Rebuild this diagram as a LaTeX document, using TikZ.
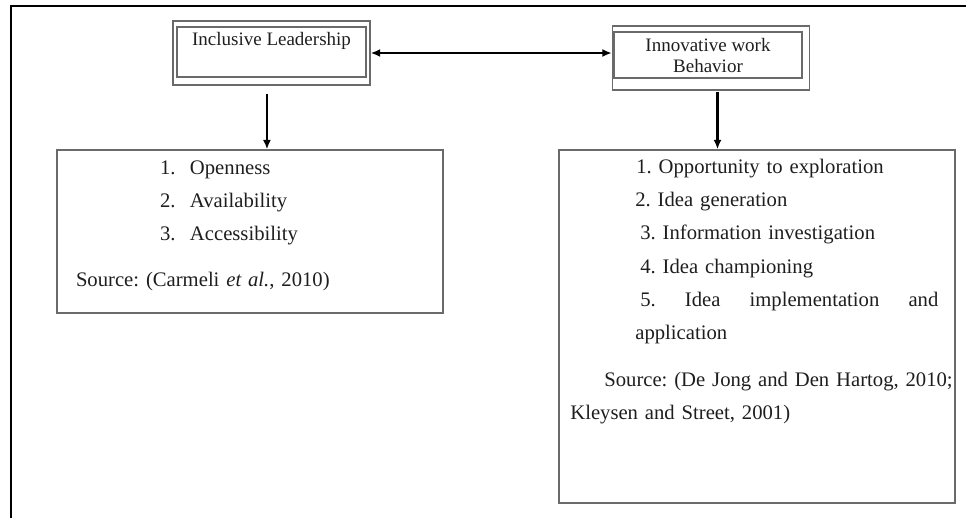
\documentclass[tikz,border=0pt]{standalone}
\usepackage{fontspec}
\setmainfont{Liberation Serif}
\usetikzlibrary{arrows.meta,positioning,calc}
\definecolor{ink}{HTML}{1E1E1E}
\definecolor{boxline}{HTML}{6A6A6A}
\tikzset{
  >={Latex[length=7pt,width=6pt]},
  every node/.style={text=ink},
  outerbox/.style={draw=boxline,line width=1.1pt,minimum width=147.75pt,minimum height=48pt,inner sep=0pt},
  innerbox/.style={draw=boxline,line width=1.1pt,inner sep=0pt,align=center,font=\fontsize{14.25pt}{15.75pt}\selectfont\frenchspacing},
  listbox/.style={draw=boxline,line width=1.1pt,align=left,inner ysep=0pt,font=\fontsize{15.5pt}{25pt}\selectfont\frenchspacing},
  arrow/.style={->,line width=1.6pt,draw=black},
  biarrow/.style={<->,line width=1.6pt,draw=black},
  pageframe/.style={line width=1.5pt,draw=black},
}

\begin{document}
\begin{tikzpicture}[x=0.75pt,y=-0.75pt]
\useasboundingbox (0,0) rectangle (966,518);

\draw[pageframe] (966,6) -- (11,6) -- (11,518);

% top boxes
\node[outerbox] (lead) at (271.5,53) {};
\node[innerbox,minimum width=141.75pt,text height=13.5pt,text depth=24pt] (leadIn) at (271.5,52) {Inclusive Leadership};
\node[outerbox,right=180.75pt of lead,yshift=-3.75pt] (iwb) {};
\node[innerbox,minimum width=141pt,minimum height=34.5pt] (iwbIn) at (708,55) {Innovative work\\Behavior};

% dimension boxes
\node[listbox,minimum width=289.5pt,minimum height=122.25pt,text width=261pt,inner xsep=14.25pt] (leadDims) at (250,231.5)
{\hspace*{63pt}\makebox[22.5pt][l]{1.}Openness\\
 \hspace*{63pt}\makebox[22.5pt][l]{2.}Availability\\
 \hspace*{63pt}\makebox[22.5pt][l]{3.}Accessibility\\[9pt]
 Source: (Carmeli \textit{et al.}, 2010)\rule[-12.5pt]{0pt}{1pt}};
\node[listbox,minimum width=297pt,minimum height=264.75pt,text width=280pt,inner xsep=8.5pt] (iwbDims) at (757,326.5)
{\hspace*{49.5pt}1. Opportunity to exploration\\
 \hspace*{48.75pt}2. Idea generation\\
 \hspace*{52.5pt}3. Information investigation\\
 \hspace*{52.5pt}4. Idea championing\\
 \hspace*{52.5pt}\makebox[223.5pt][s]{5.\hfill Idea\hfill implementation\hfill and}\\
 \hspace*{48.75pt}application\\[10pt]
 \hspace*{25.5pt}\mbox{Source: (De Jong and Den Hartog, 2010;}\\
 Kleysen and Street, 2001)\rule[-56pt]{0pt}{1pt}};

\coordinate (leadFoot) at ([xshift=-3.4pt,yshift=-6pt]lead.south);
\coordinate (iwbFoot) at ([xshift=4.9pt,yshift=-0.75pt]iwb.south);

\draw[biarrow] (lead.east) -- (lead.east -| iwb.west);
\draw[arrow] (leadFoot) -- (leadFoot |- leadDims.north);
\draw[arrow] (iwbFoot) -- (iwbFoot |- iwbDims.north);

\end{tikzpicture}
\end{document}
